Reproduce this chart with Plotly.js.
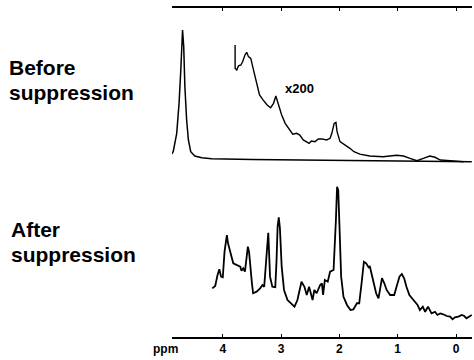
<!DOCTYPE html>
<html>
<head>
<meta charset="utf-8">
<script src="https://cdn.plot.ly/plotly-3.0.1.min.js"></script>
<style>html,body{margin:0;padding:0;background:#fff;}#chart{width:474px;height:360px;}</style>
</head>
<body>
<div id="chart"></div>
<script>
// Before suppression: full spectrum (water peak dominates), chemical shift in ppm
var beforePpm = [4.93, 4.85, 4.79, 4.75, 4.72, 4.70, 4.69, 4.67, 4.65, 4.62, 4.59, 4.55, 4.48, 4.36, 4.19, 3.5, 2.5, 1.5, 0.5, -0.27];
var beforeInt = [1.3, 6.4, 20.5, 43.6, 69.2, 87.2, 100, 87.2, 56.4, 30.8, 15.4, 6.4, 3.1, 1.8, 1.0, 0.3, 0.0, -0.5, -1.0, -1.3];

// Before suppression, vertical expansion x200
var x200Ppm = [3.789, 3.788, 3.76, 3.73, 3.69, 3.66, 3.62, 3.59, 3.56, 3.52, 3.48, 3.43, 3.37, 3.31, 3.24, 3.18, 3.13, 3.09, 3.05, 2.99, 2.93, 2.86, 2.80, 2.73, 2.68, 2.62, 2.56, 2.52, 2.48, 2.42, 2.36, 2.30, 2.22, 2.16, 2.13, 2.09, 2.06, 2.04, 1.99, 1.90, 1.82, 1.75, 1.65, 1.48, 1.25, 1.02, 0.90, 0.79, 0.67, 0.56, 0.45, 0.36, 0.27, 0.10, -0.13];
var x200Int = [88.5, 70.5, 69.2, 72.5, 73.1, 75.6, 80.8, 82.8, 79.5, 78.2, 70.5, 60.2, 50.0, 46.2, 42.3, 40.2, 43.6, 49.2, 43.6, 34.6, 28.2, 23.1, 19.8, 20.5, 19.2, 15.4, 14.1, 12.8, 14.6, 14.1, 16.2, 16.2, 15.4, 16.7, 20.5, 28.2, 29.0, 21.8, 14.1, 11.5, 9.0, 6.4, 4.5, 3.1, 2.5, 3.6, 3.1, 1.3, -0.5, 1.3, 3.1, 2.1, 0.0, -0.5, -1.3];

// After suppression spectrum
var afterPpm = [4.18, 4.13, 4.09, 4.06, 4.03, 4.00, 3.97, 3.95, 3.93, 3.91, 3.88, 3.85, 3.82, 3.76, 3.70, 3.68, 3.65, 3.62, 3.59, 3.57, 3.55, 3.53, 3.50, 3.48, 3.42, 3.36, 3.32, 3.29, 3.26, 3.24, 3.22, 3.21, 3.19, 3.15, 3.10, 3.08, 3.06, 3.04, 3.02, 2.99, 2.95, 2.89, 2.83, 2.77, 2.72, 2.65, 2.60, 2.56, 2.52, 2.49, 2.46, 2.43, 2.39, 2.33, 2.30, 2.28, 2.25, 2.20, 2.16, 2.10, 2.08, 2.06, 2.04, 2.02, 2.00, 1.97, 1.93, 1.87, 1.81, 1.76, 1.70, 1.66, 1.62, 1.58, 1.54, 1.50, 1.48, 1.43, 1.37, 1.33, 1.30, 1.27, 1.23, 1.19, 1.13, 1.06, 1.02, 0.97, 0.93, 0.89, 0.85, 0.80, 0.73, 0.66, 0.62, 0.57, 0.53, 0.48, 0.42, 0.36, 0.32, 0.27, 0.22, 0.16, 0.10, 0.06, 0.02, -0.04, -0.10, -0.14, -0.18, -0.23, -0.27];
var afterInt = [23.8, 25.6, 33.8, 38.1, 32.6, 32.1, 51.4, 60.2, 63.9, 57.7, 51.4, 47.6, 42.6, 41.4, 40.1, 37.1, 38.9, 36.3, 47.6, 55.1, 51.4, 40.1, 27.6, 20.1, 21.3, 23.8, 26.3, 25.0, 42.6, 60.2, 65.6, 55.1, 32.6, 25.0, 24.6, 42.6, 70.2, 77.2, 68.9, 40.1, 22.6, 15.0, 12.6, 10.0, 15.0, 28.8, 25.0, 18.8, 25.0, 18.8, 15.0, 22.6, 20.1, 26.3, 27.6, 18.8, 30.1, 28.8, 36.3, 37.6, 52.6, 75.2, 100.2, 97.7, 72.0, 32.6, 17.5, 11.3, 7.5, 8.0, 12.6, 12.6, 27.6, 43.8, 42.6, 39.6, 40.6, 30.1, 20.1, 16.3, 25.0, 31.4, 27.6, 22.6, 18.8, 18.8, 25.0, 32.6, 34.6, 31.4, 25.0, 18.8, 15.0, 11.3, 7.5, 10.0, 6.2, 10.0, 5.0, 6.2, 3.8, 5.0, 4.3, 3.0, 2.5, 0.5, 2.0, 2.5, 3.8, 3.0, 1.3, 3.0, 3.8];

var tickVals = [4, 3, 2, 1, 0];
var tickText = ['4', '3', '2', '1', '0'];
var ppmRange = [4.871, -0.274];

var FONT = 'Liberation Sans, Arial, Helvetica, sans-serif';

var traces = [
  {x: beforePpm, y: beforeInt, xaxis: 'x', yaxis: 'y2', mode: 'lines', line: {color: '#000', width: 1.5}, hoverinfo: 'skip'},
  {x: x200Ppm, y: x200Int, xaxis: 'x', yaxis: 'y2', mode: 'lines', line: {color: '#000', width: 1.4}, hoverinfo: 'skip'},
  {x: afterPpm, y: afterInt, xaxis: 'x', yaxis: 'y', mode: 'lines', line: {color: '#000', width: 1.8}, hoverinfo: 'skip'},
  // empty trace so the top (frame) axis is drawn
  {x: [], y: [], xaxis: 'x2', yaxis: 'y', mode: 'lines', hoverinfo: 'skip'}
];

var hiddenY = {showline: false, ticks: '', showticklabels: false, showgrid: false, zeroline: false, fixedrange: true};

var layout = {
  width: 474, height: 360,
  margin: {l: 172, r: 2, t: 6, b: 23},
  paper_bgcolor: '#fff', plot_bgcolor: 'rgba(0,0,0,0)',
  showlegend: false,
  font: {family: FONT, color: '#000'},
  xaxis: {
    range: ppmRange, anchor: 'y',
    showline: true, linecolor: '#000', linewidth: 1.5,
    ticks: 'inside', ticklen: 3, tickcolor: '#000', tickwidth: 1,
    tickvals: tickVals, ticktext: tickText,
    tickfont: {family: FONT, size: 12, color: '#000', weight: 'bold'},
    showgrid: false, zeroline: false
  },
  xaxis2: {
    range: ppmRange, overlaying: 'x', anchor: 'free', position: 1, side: 'top',
    showline: true, linecolor: '#000', linewidth: 1.5,
    ticks: 'inside', ticklen: 3, tickcolor: '#000', tickwidth: 1,
    tickvals: tickVals, showticklabels: false,
    showgrid: false, zeroline: false
  },
  // after-suppression spectrum (lower part of the frame)
  yaxis: Object.assign({domain: [0, 1], range: [-12.78, 236.09]}, hiddenY),
  // before-suppression spectrum (upper part of the frame)
  yaxis2: Object.assign({overlaying: 'y', range: [-136.15, 118.46]}, hiddenY),
  annotations: [
    {xref: 'paper', yref: 'paper', x: -0.55, y: 0.8142, xanchor: 'left', yanchor: 'middle', text: '<b>Before</b>', showarrow: false, font: {family: FONT, size: 21, color: '#000'}},
    {xref: 'paper', yref: 'paper', x: -0.55, y: 0.7387, xanchor: 'left', yanchor: 'middle', text: '<b>suppression</b>', showarrow: false, font: {family: FONT, size: 21, color: '#000'}},
    {xref: 'paper', yref: 'paper', x: -0.543, y: 0.3248, xanchor: 'left', yanchor: 'middle', text: '<b>After</b>', showarrow: false, font: {family: FONT, size: 21, color: '#000'}},
    {xref: 'paper', yref: 'paper', x: -0.543, y: 0.2492, xanchor: 'left', yanchor: 'middle', text: '<b>suppression</b>', showarrow: false, font: {family: FONT, size: 21, color: '#000'}},
    {xref: 'x', yref: 'y2', x: 2.68, y: 55, xanchor: 'center', yanchor: 'middle', text: '<b>x200</b>', showarrow: false, font: {family: FONT, size: 13, color: '#000'}},
    {xref: 'paper', yref: 'paper', x: -0.0217, y: -0.0363, xanchor: 'center', yanchor: 'middle', text: '<b>ppm</b>', showarrow: false, font: {family: FONT, size: 12, color: '#000'}}
  ]
};

Plotly.newPlot('chart', traces, layout, {displayModeBar: false, staticPlot: true});
</script>
</body>
</html>
